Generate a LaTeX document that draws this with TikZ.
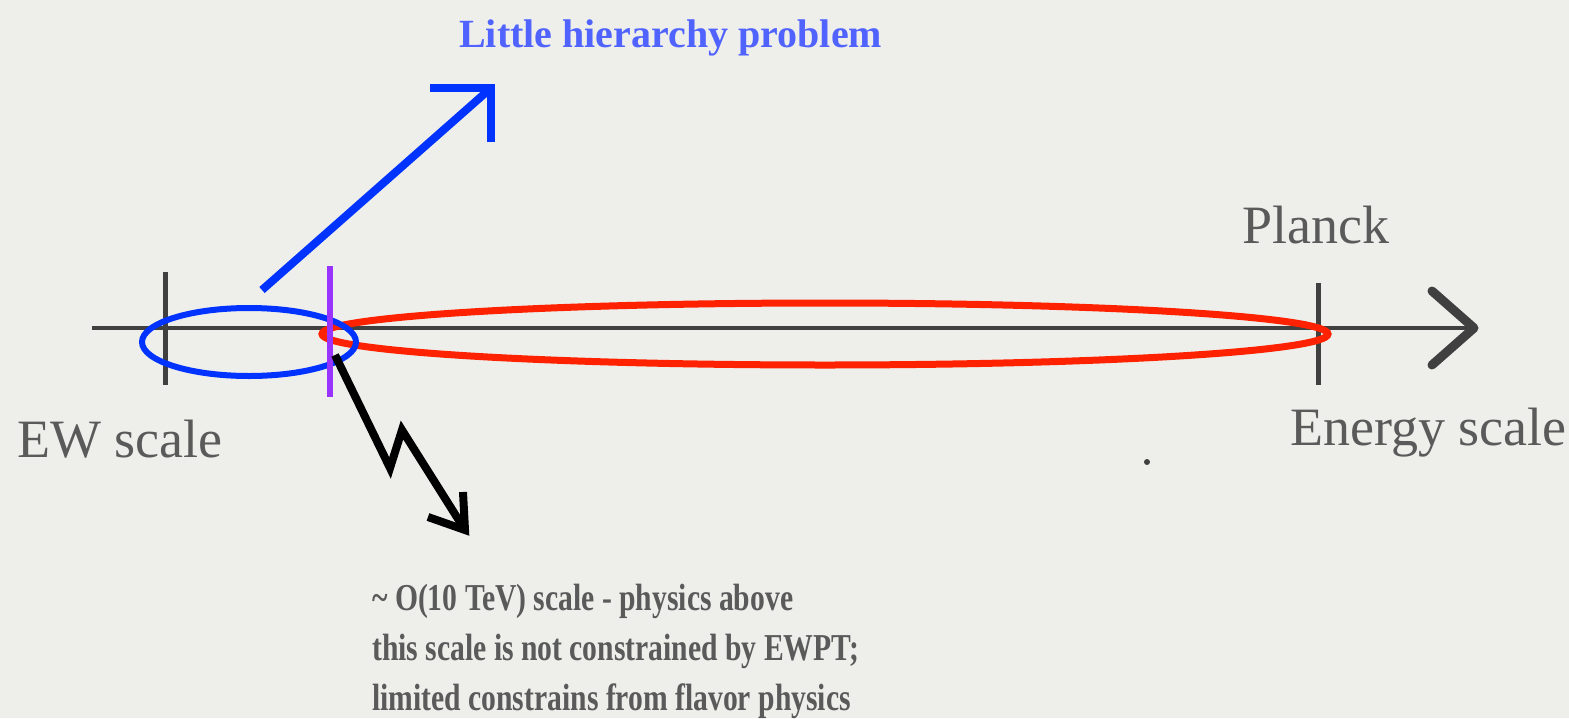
\documentclass[tikz,border=0pt]{standalone}
\usepackage{fontspec}
\setmainfont{Liberation Serif}
\newfontfamily\notefont[FakeStretch=0.78]{Liberation Serif}
\usetikzlibrary{calc}

\definecolor{paper}{HTML}{EEEEEB}
\definecolor{axisgray}{HTML}{404040}
\definecolor{penblue}{HTML}{0033FF}
\definecolor{penred}{HTML}{FF2200}
\definecolor{penpurple}{HTML}{9933FF}
\definecolor{textgray}{HTML}{5A5A5A}
\definecolor{textblue}{HTML}{5063FF}

\begin{document}
\begin{tikzpicture}[x=1pt,y=-1pt,
  axisline/.style={axisgray, line width=4pt},
  tickmark/.style={axisgray, line width=5pt},
  pen/.style={line width=8pt, line join=miter},
  scaletext/.style={text=textgray, inner sep=0pt, anchor=base west,
    font=\fontsize{54}{60}\selectfont}]

% Paper background
\fill[paper] (0,0) rectangle (1569,718);
\useasboundingbox (0,0) rectangle (1569,718);

% Energy axis with open arrow head
\coordinate (axisstart) at (92,328);
\coordinate (axisend) at (1474,328);
\draw[axisline] (axisstart) -- (axisend);
\draw[axisline, line width=9pt, line cap=round, line join=round]
  ($(axisend)+(-42,-37)$) -- (axisend) -- ($(axisend)+(-42,37)$);

% Ticks at EW and Planck
\coordinate (ewpt) at (165,328);
\coordinate (planckpt) at (1318,328);
\draw[tickmark] ($(ewpt)+(0,-56)$) -- ($(ewpt)+(0,57)$);
\draw[tickmark] ($(planckpt)+(0,-45)$) -- ($(planckpt)+(0,57)$);

% Regions
\draw[penred, line width=7pt] (825,334) ellipse [x radius=503pt, y radius=31pt];
\draw[penblue, line width=6pt] (249,342) ellipse [x radius=107pt, y radius=34pt];
\draw[penpurple, line width=6pt] (330,266) -- (330,397);

% Arrow to the little hierarchy problem
\coordinate (littletail) at (262,290);
\coordinate (littletip) at (491,88);
\draw[pen, penblue] (littletail) -- (littletip);
\draw[pen, penblue] ($(littletip)+(-61,0)$) -- (littletip) -- ($(littletip)+(0,54)$);

% Zigzag arrow to the 10 TeV note
\coordinate (zigtail) at (335,355);
\coordinate (zigtip) at (465,530);
\draw[pen, black] (zigtail) -- (390,468) -- (402,430) -- (zigtip);
\draw[pen, black] ($(zigtip)+(-37,-13)$) -- (zigtip) -- ($(zigtip)+(-2,-38)$);

% Stray dot
\fill[axisgray] (1147,462) circle (3pt);

% Labels
\node (little) [scaletext, text=textblue, font=\fontsize{40}{48}\selectfont\bfseries]
  at (459,47) {Little hierarchy problem};
\node (planck) [scaletext] at (1242,243) {Planck};
\node (ewscale) [scaletext] at (17,457) {EW scale};
\node (energy) [scaletext] at (1290,445) {Energy scale};
\node (note) [scaletext, font=\notefont\bfseries\fontsize{38}{50}\selectfont, align=left]
  at (372,710)
  {\textasciitilde\ O(10 TeV) scale - physics above\\
   this scale is not constrained by EWPT;\\
   limited constrains from flavor physics};
\end{tikzpicture}
\end{document}
